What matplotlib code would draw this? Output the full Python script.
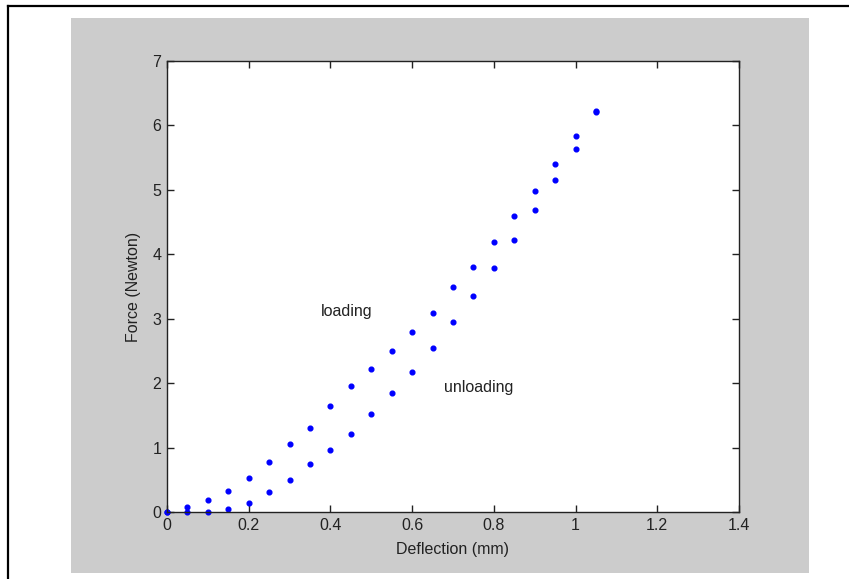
import matplotlib
matplotlib.use("Agg")
import matplotlib.pyplot as plt
from matplotlib.patches import Rectangle
from matplotlib.lines import Line2D

# deflection (mm) sampled every 0.05
deflection = [0.00, 0.05, 0.10, 0.15, 0.20, 0.25, 0.30, 0.35, 0.40, 0.45, 0.50,
              0.55, 0.60, 0.65, 0.70, 0.75, 0.80, 0.85, 0.90, 0.95, 1.00, 1.05]
loading = [0.00, 0.08, 0.19, 0.33, 0.53, 0.78, 1.05, 1.31, 1.65, 1.95, 2.22,
           2.50, 2.79, 3.09, 3.49, 3.81, 4.19, 4.60, 4.98, 5.40, 5.83, 6.23]
unloading = [0.00, 0.00, 0.00, 0.04, 0.14, 0.31, 0.49, 0.74, 0.96, 1.21, 1.52,
             1.85, 2.17, 2.54, 2.95, 3.36, 3.79, 4.22, 4.69, 5.16, 5.64, 6.21]

xticks = [0, 0.2, 0.4, 0.6, 0.8, 1, 1.2, 1.4]
xticklabels = ["0", "0.2", "0.4", "0.6", "0.8", "1", "1.2", "1.4"]
yticks = [0, 1, 2, 3, 4, 5, 6, 7]

plt.rcParams["font.family"] = ["Liberation Sans", "DejaVu Sans"]

fig = plt.figure(figsize=(8.49, 5.79), dpi=100)
fig.patch.set_facecolor("white")

# grey figure panel + page frame lines (kept behind the axes)
fig.patches.append(Rectangle((0.0836, 0.0104), 0.8693, 0.9585, transform=fig.transFigure,
                             facecolor="#cccccc", edgecolor="none", zorder=-10))
fig.lines.append(Line2D([0.0100, 0.0100], [0.0, 0.9888], transform=fig.transFigure,
                        color="black", lw=1.6, zorder=-10))
fig.lines.append(Line2D([0.0100, 1.0], [0.9888, 0.9888], transform=fig.transFigure,
                        color="black", lw=1.6, zorder=-10))

ax = fig.add_axes([0.1967, 0.1157, 0.6737, 0.7789])
ax.set_facecolor("white")

ax.plot(deflection, loading, ls="none", marker="o", ms=3.4, color="blue", mec="blue", clip_on=False)
ax.plot(deflection, unloading, ls="none", marker="o", ms=3.4, color="blue", mec="blue", clip_on=False)

ax.text(0.377, 3.12, "loading", fontsize=11.5, va="center", ha="left", color="#222222")
ax.text(0.678, 1.94, "unloading", fontsize=11.5, va="center", ha="left", color="#222222")

ax.set_xlim(0, 1.4)
ax.set_ylim(0, 7)
ax.set_xticks(xticks)
ax.set_xticklabels(xticklabels)
ax.set_yticks(yticks)
ax.tick_params(direction="in", length=5, width=1, top=True, right=True,
               labelsize=11.5, colors="#222222", pad=4)
for s in ax.spines.values():
    s.set_color("#222222")
    s.set_linewidth(1)

ax.set_xlabel("Deflection (mm)", fontsize=11.5, labelpad=7, color="#222222")
ax.set_ylabel("Force (Newton)", fontsize=11.5, labelpad=8, color="#222222")

plt.savefig("out.png", dpi=100, facecolor=fig.get_facecolor())
plt.close()
